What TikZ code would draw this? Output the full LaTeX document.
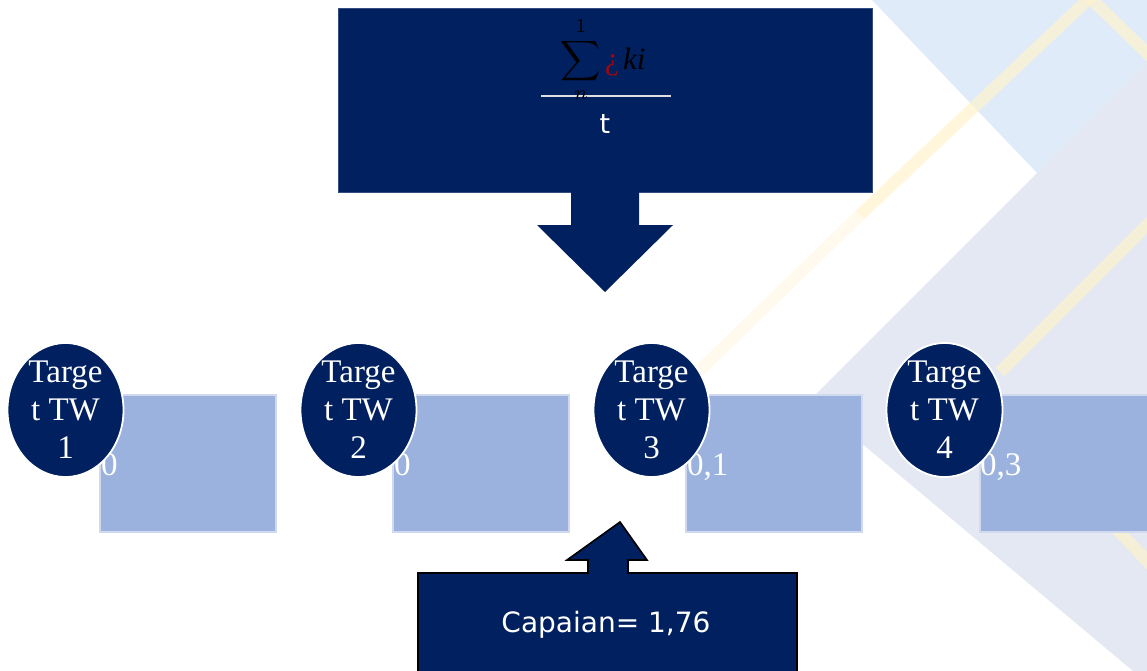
\documentclass[tikz,border=0pt]{standalone}
\usepackage{fontspec}
\setmainfont{Liberation Serif}
\newfontfamily\capfont{DejaVu Sans}
\usetikzlibrary{shapes.geometric}
\definecolor{navy}{RGB}{0,32,96}
\definecolor{boxblue}{RGB}{155,178,222}
\definecolor{boxedge}{RGB}{208,217,238}
\definecolor{bgblue}{RGB}{224,235,250}
\definecolor{bggray}{RGB}{228,232,242}
\definecolor{stripe}{RGB}{255,243,205}
\definecolor{sumred}{RGB}{150,10,20}
\tikzset{
  twnode/.style={ellipse, fill=navy, draw=white, line width=1.8pt,
    minimum width=116, minimum height=134, inner sep=0pt},
  twtext/.style={text=white, align=center, inner sep=0pt,
    font=\fontsize{33}{38}\selectfont},
  valbox/.style={rectangle, fill=boxblue, draw=boxedge, line width=2pt,
    minimum width=176, minimum height=137, inner sep=0pt},
  valtext/.style={text=white, inner sep=0pt, anchor=base west,
    font=\fontsize{33}{36}\selectfont},
  stripeline/.style={draw=stripe, line width=12pt, opacity=0.7}
}
\begin{document}
\begin{tikzpicture}[x=1pt,y=-1pt]
\useasboundingbox (0,0) rectangle (1147,671);
\fill[white] (0,0) rectangle (1147,671);
% background pattern
\fill[bgblue] (872,0) -- (1037,173) -- (1147,63) -- (1147,0) -- cycle;
\fill[bggray] (1037,173) -- (1147,63) -- (1147,671) -- (1133,671) -- (810,400) -- cycle;
\draw[stripeline] (1096,-8) -- (860,215);
\draw[stripeline, opacity=0.35] (860,215) -- (700,370);
\draw[stripeline] (1084,-8) -- (1152,58);
\draw[stripeline] (1152,220) -- (1000,372);
\draw[stripeline] (1108,520) -- (1152,566);
% top box with down arrow
\node[rectangle, fill=navy, draw=navy!80!white, line width=0.8pt,
  minimum width=534, minimum height=184, inner sep=0pt, anchor=north west]
  (top) at (338,8) {};
\fill[navy] (571,190) -- (639,190) -- (639,225) -- (673,225) -- (605,292)
  -- (537,225) -- (571,225) -- cycle;
% formula
\draw[white!75!gray, line width=1.3pt] (541,96) -- (671,96);
\node[inner sep=0pt] (sig) at (581,60) {\scalebox{2.8}{$\displaystyle\sum_{n}^{1}$}};
\node[inner sep=0pt, anchor=base, text=sumred, font=\fontsize{32}{34}\selectfont] (q) at (612,70) {¿};
\node[inner sep=0pt, anchor=base west, font=\fontsize{31}{32}\selectfont\itshape] (ki) at (623,70) {ki};
\node[inner sep=0pt, anchor=base, text=white, font=\capfont\fontsize{27}{28}\selectfont] (t) at (605,134) {t};
% value boxes
\node[valbox] (r1) at (188,463.5) {};
\node[valbox] (r2) at (481,463.5) {};
\node[valbox] (r3) at (774,463.5) {};
\node[valbox] (r4) at (1068,463.5) {};
\node[valtext] (v1) at (101,475) {0};
\node[valtext] (v2) at (394,475) {0};
\node[valtext] (v3) at (687,475) {0,1};
\node[valtext] (v4) at (980,475) {0,3};
% target ellipses
\node[twnode, label={[twtext]center:{Targe\\t TW\\1}}] (c1) at (65.5,410) {};
\node[twnode, label={[twtext]center:{Targe\\t TW\\2}}] (c2) at (358.5,410) {};
\node[twnode, label={[twtext]center:{Targe\\t TW\\3}}] (c3) at (651.5,410) {};
\node[twnode, label={[twtext]center:{Targe\\t TW\\4}}] (c4) at (944.5,410) {};
% bottom box with up arrow
\filldraw[fill=navy, draw=black, line width=1.6pt]
  (418,680) -- (418,573) -- (588,573) -- (588,560) -- (567,560) -- (620,522)
  -- (647,560) -- (628,560) -- (628,573) -- (797,573) -- (797,680) -- cycle;
\node[inner sep=0pt, text=white, font=\capfont\fontsize{28}{32}\selectfont] (cap) at (606,625) {Capaian= 1,76};
\end{tikzpicture}
\end{document}
